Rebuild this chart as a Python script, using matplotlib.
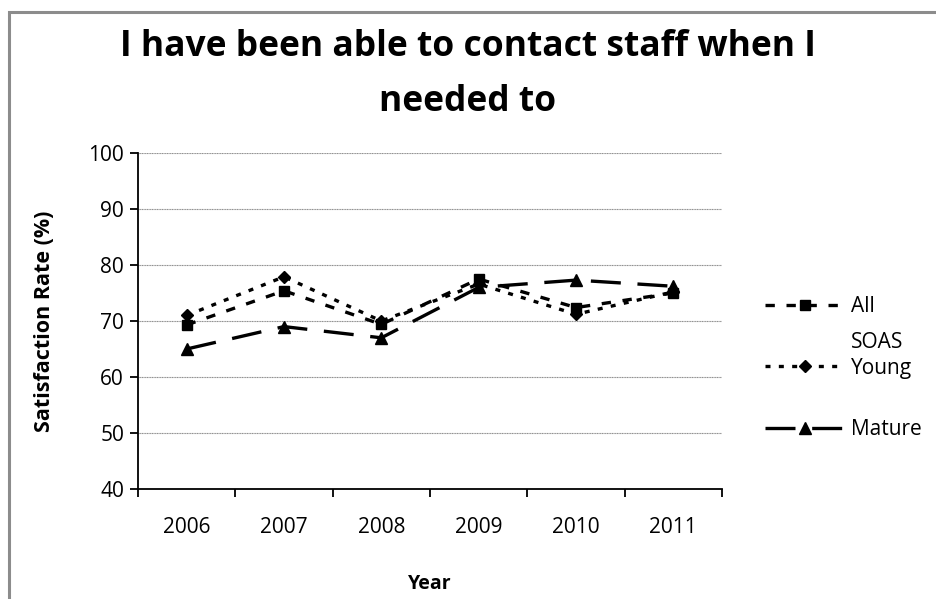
import matplotlib.pyplot as plt
import matplotlib.patches as mpatches
import numpy as np

plt.rcParams['font.family'] = ['Open Sans', 'DejaVu Sans']

years = ['2006', '2007', '2008', '2009', '2010', '2011']
all_soas = [69.3, 75.4, 69.4, 77.5, 72.4, 75.0]
young = [71.0, 77.9, 70.0, 76.6, 71.2, 75.2]
mature = [65.0, 69.0, 67.0, 76.0, 77.3, 76.2]

fig = plt.figure(figsize=(9.36, 5.99), dpi=100)
ax = fig.add_axes([0.1474, 0.1836, 0.624, 0.561])

# cadre gris autour du graphique
fig.patches.append(mpatches.Rectangle((9 / 936, -0.05), 1.0, 1 - 12 / 599 + 0.05,
                                      transform=fig.transFigure, fill=False,
                                      edgecolor='#8c8c8c', linewidth=2.2))

x = np.arange(len(years))
ax.plot(x, all_soas, color='black', linewidth=2.4, linestyle=(0, (2.8, 3.5)),
        marker='s', markersize=7, label='All')
ax.plot(x, young, color='black', linewidth=2.4, linestyle=(0, (1.5, 2.5)),
        marker='D', markersize=6, label='Young')
ax.plot(x, mature, color='black', linewidth=2.4, linestyle=(0, (9, 5)),
        marker='^', markersize=8, label='Mature')

ax.set_xlim(-0.5, 5.5)
ax.set_ylim(40, 100)
ax.set_yticks(range(40, 101, 10))
ax.set_xticks(np.arange(-0.5, 6, 1))
ax.set_xticklabels([])
ax.set_xticks(x, minor=True)
ax.set_xticklabels(years, minor=True)
ax.tick_params(axis='x', which='minor', length=0, pad=20, labelsize=15)
ax.tick_params(axis='x', which='major', length=6, width=1.3, direction='out')
ax.tick_params(axis='y', length=6, width=1.3, direction='out', labelsize=15, pad=4)

ax.grid(True, axis='y', color='#8c8c8c', linestyle=(0, (1, 0.5)), linewidth=0.8)
ax.set_axisbelow(True)
for s in ['top', 'right']:
    ax.spines[s].set_visible(False)
for s in ['left', 'bottom']:
    ax.spines[s].set_linewidth(1.3)

ax.set_xlabel('Year', fontsize=14, fontweight='bold', labelpad=26)
ax.set_ylabel('Satisfaction Rate (%)', fontsize=15.5, fontweight='bold', labelpad=24)
fig.text(0.5, 1 - 47 / 599, 'I have been able to contact staff when I',
         ha='center', va='center', fontsize=25.5, fontweight='bold')
fig.text(0.5, 1 - 102 / 599, 'needed to',
         ha='center', va='center', fontsize=25.5, fontweight='bold')

ax.legend(loc='upper left', bbox_to_anchor=(765 / 936, 1 - 296 / 599),
          bbox_transform=fig.transFigure, borderaxespad=0, borderpad=0,
          frameon=False, fontsize=15, handlelength=3.8, handletextpad=0.35,
          labelspacing=1.95)
fig.text(851 / 936, 1 - 342 / 599, 'SOAS', fontsize=15, va='center', ha='left')

plt.savefig('out.png', dpi=100)
